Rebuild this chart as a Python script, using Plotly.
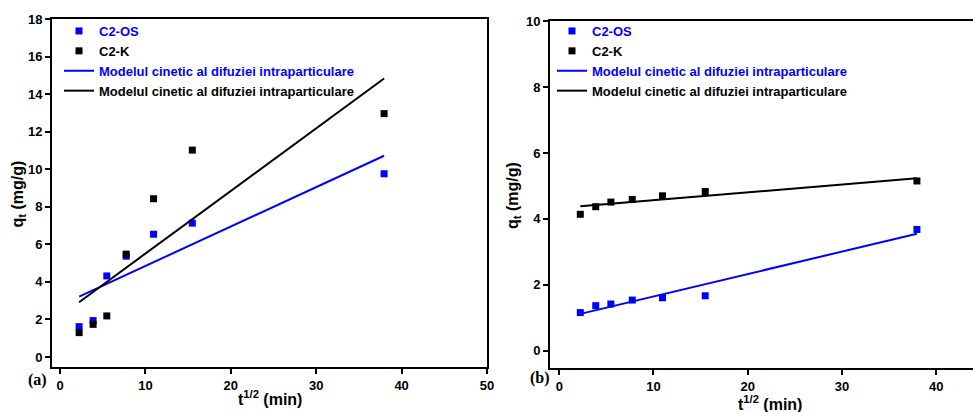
import plotly.graph_objects as go

# sqrt(t) values (min^1/2)
t_sqrt = [2.236, 3.873, 5.477, 7.746, 10.954, 15.49, 37.95]

# Panel (a)
a_os = [1.62, 1.94, 4.32, 5.37, 6.54, 7.13, 9.76]
a_k = [1.30, 1.74, 2.19, 5.48, 8.43, 11.02, 12.96]
fit_x = [2.236, 37.95]
a_fit_os = [3.22, 10.72]
a_fit_k = [2.92, 14.83]

# Panel (b)
b_os = [1.16, 1.37, 1.42, 1.54, 1.61, 1.67, 3.68]
b_k = [4.14, 4.37, 4.51, 4.59, 4.70, 4.83, 5.15]
b_fit_os = [1.12, 3.55]
b_fit_k = [4.38, 5.23]

x_ticks_a = [0, 10, 20, 30, 40, 50]
x_ticks_b = [0, 10, 20, 30, 40]
y_ticks_a = [0, 2, 4, 6, 8, 10, 12, 14, 16, 18]
y_ticks_b = [0, 2, 4, 6, 8, 10]

BLUE = "#0000ff"
BLACK = "#000000"
FONT = "Liberation Sans"
W, H = 973, 412

model_name = "Modelul cinetic al difuziei intraparticulare"

fig = go.Figure()


def add_panel(xa, ya, leg, os_vals, k_vals, fit_os, fit_k):
    fig.add_trace(go.Scatter(x=t_sqrt, y=os_vals, mode="markers", xaxis=xa, yaxis=ya, legend=leg,
                             name=f"<span style='color:{BLUE}'>C2-OS</span>",
                             marker=dict(symbol="square", size=7, color=BLUE)))
    fig.add_trace(go.Scatter(x=t_sqrt, y=k_vals, mode="markers", xaxis=xa, yaxis=ya, legend=leg,
                             name="C2-K",
                             marker=dict(symbol="square", size=7, color=BLACK)))
    fig.add_trace(go.Scatter(x=fit_x, y=fit_os, mode="lines", xaxis=xa, yaxis=ya, legend=leg,
                             name=f"<span style='color:{BLUE}'>{model_name}</span>",
                             line=dict(color=BLUE, width=2)))
    fig.add_trace(go.Scatter(x=fit_x, y=fit_k, mode="lines", xaxis=xa, yaxis=ya, legend=leg,
                             name=model_name,
                             line=dict(color=BLACK, width=2)))


add_panel("x", "y", "legend", a_os, a_k, a_fit_os, a_fit_k)
add_panel("x2", "y2", "legend2", b_os, b_k, b_fit_os, b_fit_k)

tickfont = dict(family=FONT, size=13, color="black", weight="bold")
axis_common = dict(showline=True, linewidth=2, linecolor="black", ticks="outside",
                   ticklen=5, tickwidth=2, tickcolor="black", showgrid=False,
                   zeroline=False, tickfont=tickfont, automargin=False)


def px_x(p):
    return p / W


def px_y(p):
    return (H - p) / H


legend_font = dict(family=FONT, size=13, color="black", weight="bold")

fig.update_layout(
    width=W, height=H,
    margin=dict(l=0, r=0, t=0, b=0),
    paper_bgcolor="white", plot_bgcolor="white",
    showlegend=True,
    xaxis=dict(domain=[px_x(52), px_x(487)], range=[-0.94, 50], tickvals=x_ticks_a,
               mirror=True, anchor="y", **axis_common),
    yaxis=dict(domain=[px_y(367), px_y(19)], range=[-0.53, 18], tickvals=y_ticks_a,
               mirror=True, anchor="x", **axis_common),
    xaxis2=dict(domain=[px_x(550), 1.0], range=[-0.98, 43.9], tickvals=x_ticks_b,
                mirror=True, anchor="y2", **axis_common),
    yaxis2=dict(domain=[px_y(368), px_y(21)], range=[-0.52, 10], tickvals=y_ticks_b,
                mirror=False, anchor="x2", **axis_common),
    legend=dict(x=px_x(59), y=px_y(16), xanchor="left", yanchor="top",
                bgcolor="rgba(0,0,0,0)", tracegroupgap=0, font=legend_font),
    legend2=dict(x=px_x(552), y=px_y(16), xanchor="left", yanchor="top",
                 bgcolor="rgba(0,0,0,0)", tracegroupgap=0, font=legend_font),
)

title_font = dict(family=FONT, size=16, color="black", weight="bold")
annots = [
    dict(text="t<sup>1/2</sup> (min)", x=px_x(270), y=px_y(398)),
    dict(text="t<sup>1/2</sup> (min)", x=px_x(770), y=px_y(403)),
    dict(text="q<sub>t</sub> (mg/g)", x=px_x(17.5), y=px_y(194), textangle=-90),
    dict(text="q<sub>t</sub> (mg/g)", x=px_x(513), y=px_y(196), textangle=-90),
]
for a in annots:
    fig.add_annotation(xref="paper", yref="paper", showarrow=False,
                       xanchor="center", yanchor="middle", font=title_font, **a)

for lbl, x, y in [("(a)", 37, 380), ("(b)", 540, 378)]:
    fig.add_annotation(xref="paper", yref="paper", showarrow=False, text=lbl,
                       x=px_x(x), y=px_y(y), xanchor="center", yanchor="middle",
                       font=dict(family="Liberation Serif", size=16, color="black", weight="bold"))

fig.write_html("out.html")
